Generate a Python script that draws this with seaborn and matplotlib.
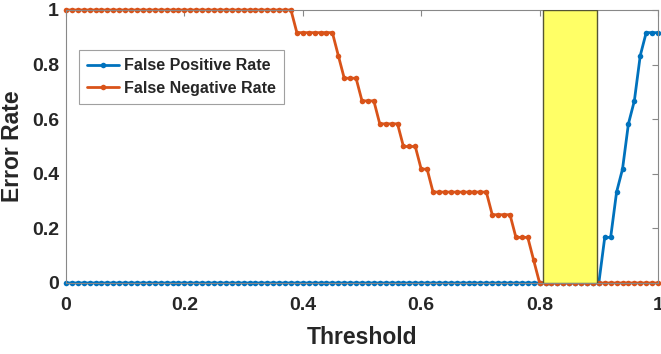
import numpy as np
import pandas as pd
import seaborn as sns
import matplotlib.pyplot as plt
from matplotlib.patches import Rectangle
from matplotlib.ticker import FuncFormatter

# thresholds swept in steps of 0.01
thresholds = np.round(np.arange(0, 101) / 100, 2)

fpr = [0.0] * 91 + [0.167, 0.167, 0.333, 0.417, 0.583, 0.667, 0.833, 0.917, 0.917, 0.917]

fnr = ([1.0] * 39
       + [0.917] * 7
       + [0.833]
       + [0.75] * 3
       + [0.667] * 3
       + [0.583] * 4
       + [0.5] * 3
       + [0.417] * 2
       + [0.333] * 10
       + [0.25] * 4
       + [0.167] * 3
       + [0.083]
       + [0.0] * 21)

band_start, band_end = 0.805, 0.897

df = pd.DataFrame({'Threshold': thresholds, 'FPR': fpr, 'FNR': fnr})

sns.set_style('white')
plt.rcParams['font.family'] = ['Liberation Sans', 'DejaVu Sans']
plt.rcParams['font.weight'] = 'bold'

fig = plt.figure(figsize=(6.61, 3.54), dpi=100)
ax = fig.add_axes([0.0998, 0.2006, 0.8957, 0.7712])

blue = '#0072BD'
orange = '#D95319'
sns.lineplot(data=df, x='Threshold', y='FPR', ax=ax, color=blue, linewidth=2,
             marker='o', markersize=4, markeredgewidth=0, label='False Positive Rate',
             clip_on=False)
sns.lineplot(data=df, x='Threshold', y='FNR', ax=ax, color=orange, linewidth=2,
             marker='o', markersize=4, markeredgewidth=0, label='False Negative Rate',
             clip_on=False)

ax.add_patch(Rectangle((band_start, 0), band_end - band_start, 1,
                       facecolor='#FFFF66', edgecolor='#555533', linewidth=1, zorder=5))

ax.set_xlim(0, 1)
ax.set_ylim(0, 1)
ax.set_xticks([0, 0.2, 0.4, 0.6, 0.8, 1])
ax.set_yticks([0, 0.2, 0.4, 0.6, 0.8, 1])
fmt = FuncFormatter(lambda v, p: '%g' % v)
ax.xaxis.set_major_formatter(fmt)
ax.yaxis.set_major_formatter(fmt)
ax.tick_params(direction='in', length=4, width=0.8, color='#888888',
               top=True, right=True, labelsize=14, labelcolor='#262626')
ax.tick_params(axis='x', pad=10)
ax.tick_params(axis='y', pad=5)
for s in ax.spines.values():
    s.set_color('#888888')
    s.set_linewidth(0.8)

ax.set_xlabel('Threshold', fontsize=16.5, fontweight='bold', color='#262626', labelpad=9)
ax.set_ylabel('Error Rate', fontsize=16.5, fontweight='bold', color='#262626', labelpad=6)

leg = ax.legend(loc='upper left', bbox_to_anchor=(0.022, 0.853), borderaxespad=0,
                fontsize=11.5, frameon=True, fancybox=False, edgecolor='#888888',
                handlelength=2.0, borderpad=0.5, labelspacing=0.5, handletextpad=0.3)
leg.get_frame().set_linewidth(0.8)
for t in leg.get_texts():
    t.set_fontweight('bold')

fig.savefig('out.png', dpi=100)
